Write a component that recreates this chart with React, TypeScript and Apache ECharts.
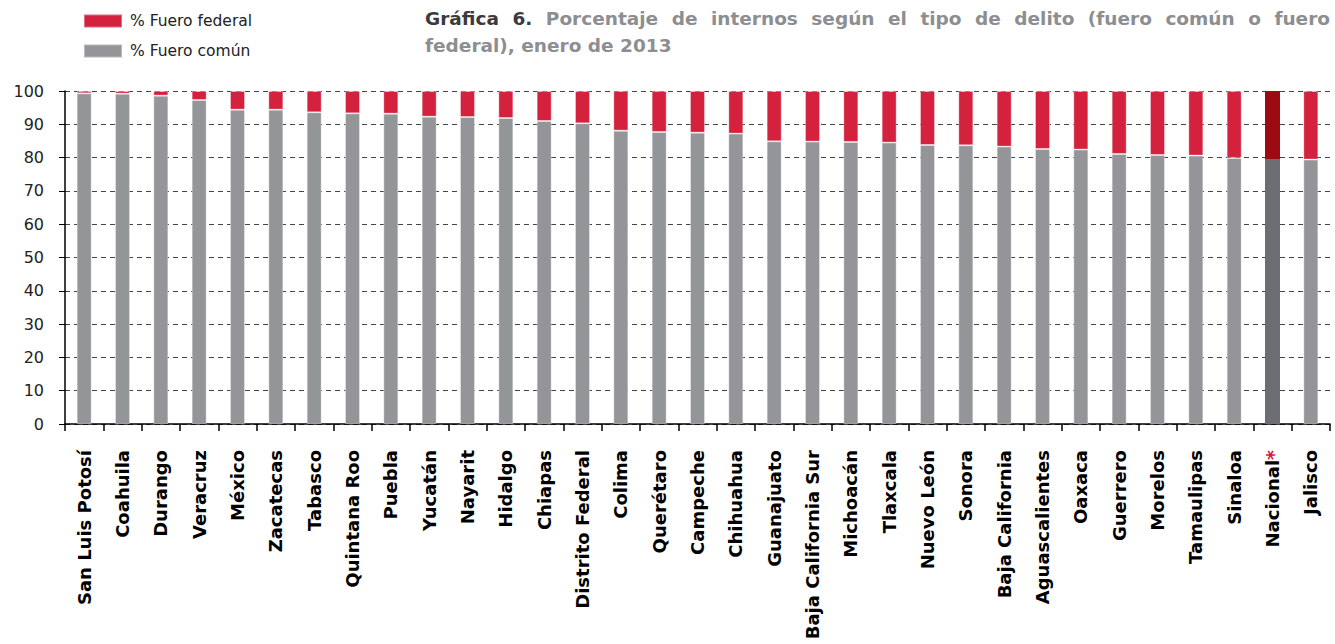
import React, { useEffect, useRef } from "react";
import * as echarts from "echarts";

const states = [
  "San Luis Potosí", "Coahuila", "Durango", "Veracruz", "México", "Zacatecas", "Tabasco",
  "Quintana Roo", "Puebla", "Yucatán", "Nayarit", "Hidalgo", "Chiapas", "Distrito Federal",
  "Colima", "Querétaro", "Campeche", "Chihuahua", "Guanajuato", "Baja California Sur",
  "Michoacán", "Tlaxcala", "Nuevo León", "Sonora", "Baja California", "Aguascalientes",
  "Oaxaca", "Guerrero", "Morelos", "Tamaulipas", "Sinaloa", "Nacional", "Jalisco",
];

const fueroComun = [
  99.3, 99.2, 98.6, 97.3, 94.4, 94.4, 93.6, 93.3, 93.2, 92.3, 92.2, 91.9, 91.0, 90.3,
  88.1, 87.7, 87.5, 87.2, 84.9, 84.8, 84.7, 84.5, 83.8, 83.7, 83.3, 82.6,
  82.4, 81.1, 80.8, 80.6, 79.9, 79.6, 79.4,
];

const fueroFederal = [
  0.7, 0.8, 1.4, 2.7, 5.6, 5.6, 6.4, 6.7, 6.8, 7.7, 7.8, 8.1, 9.0, 9.7,
  11.9, 12.3, 12.5, 12.8, 15.1, 15.2, 15.3, 15.5, 16.2, 16.3, 16.7, 17.4,
  17.6, 18.9, 19.2, 19.4, 20.1, 20.4, 20.6,
];

const yTicks = [0, 10, 20, 30, 40, 50, 60, 70, 80, 90, 100];

const titleLead = "Gráfica 6.";
const titleLine1 = "Porcentaje de internos según el tipo de delito (fuero común o fuero";
const titleLine2 = "federal), enero de 2013";

const RED = "#d4213d";
const GREY = "#939598";
const DARK_RED = "#9c0a12";
const DARK_GREY = "#6d6e71";
const FONT = "DejaVu Sans";
const TITLE_SIZE = 18.5;

export default function App() {
  const ref = useRef<HTMLDivElement>(null);

  useEffect(() => {
    document.body.style.margin = "0";
    const chart = echarts.init(ref.current!, null, { renderer: "svg" });
    const highlight = "Nacional";

    // justified first title line
    const ctx = document.createElement("canvas").getContext("2d")!;
    ctx.font = `bold ${TITLE_SIZE}px "${FONT}"`;
    const words = [
      ...titleLead.split(" ").map((w) => ({ w, dark: true })),
      ...titleLine1.split(" ").map((w) => ({ w, dark: false })),
    ];
    const widths = words.map((o) => ctx.measureText(o.w).width);
    const x0 = 425;
    const x1 = 1330;
    const total = widths.reduce((a, b) => a + b, 0);
    const gap = (x1 - x0 - total) / (words.length - 1);
    let cx = x0;
    const titleEls: any[] = [];
    words.forEach((o, i) => {
      titleEls.push({
        type: "text",
        x: cx,
        y: 9,
        style: {
          text: o.w,
          font: `bold ${TITLE_SIZE}px "${FONT}"`,
          fill: o.dark ? "#3a3a3c" : "#8d8e91",
          textVerticalAlign: "top",
        },
      });
      cx += widths[i] + gap;
    });
    titleEls.push({
      type: "text",
      x: x0,
      y: 36,
      style: {
        text: titleLine2,
        font: `bold ${TITLE_SIZE}px "${FONT}"`,
        fill: "#8d8e91",
        textVerticalAlign: "top",
      },
    });

    chart.setOption({
      animation: false,
      textStyle: { fontFamily: FONT },
      graphic: titleEls,
      legend: {
        left: 78,
        top: 8,
        orient: "vertical",
        itemWidth: 38,
        itemHeight: 13,
        itemGap: 14,
        icon: "rect",
        data: ["% Fuero federal", "% Fuero común"],
        textStyle: { fontFamily: FONT, fontSize: 15.5, color: "#222", padding: [0, 0, 0, 3] },
      },
      grid: { left: 65, right: 5, top: 91, bottom: 220, containLabel: false },
      xAxis: {
        type: "category",
        data: states,
        axisLine: { lineStyle: { color: "#000", width: 1.5 } },
        axisTick: { show: true, length: 7, lineStyle: { color: "#000", width: 1.5 } },
        axisLabel: {
          rotate: 90,
          margin: 26,
          interval: 0,
          fontFamily: FONT,
          fontWeight: "bold",
          fontSize: 18,
          color: "#000",
          formatter: (v: string) => (v === highlight ? `${v}{r|*}` : v),
          rich: {
            r: { color: RED, fontWeight: "bold", fontSize: 19, fontFamily: FONT },
          },
        },
      },
      yAxis: {
        type: "value",
        min: 0,
        max: 100,
        interval: 10,
        axisLine: { show: true, lineStyle: { color: "#000", width: 1.5 } },
        axisTick: { show: true, length: 6, lineStyle: { color: "#000" } },
        axisLabel: {
          margin: 21,
          fontFamily: FONT,
          fontSize: 16,
          color: "#222",
          formatter: (v: number) => (yTicks.includes(v) ? String(v) : ""),
        },
        splitLine: { show: true, lineStyle: { color: "#444", type: [5, 4], width: 1.2 } },
      },
      series: [
        {
          name: "% Fuero común",
          type: "bar",
          stack: "total",
          barWidth: 15,
          itemStyle: { color: GREY, borderColor: "rgba(255,255,255,0.35)", borderWidth: 1 },
          data: fueroComun.map((v, i) =>
            states[i] === highlight
              ? { value: v, itemStyle: { color: DARK_GREY, borderWidth: 0 } }
              : v
          ),
        },
        {
          name: "% Fuero federal",
          type: "bar",
          stack: "total",
          barWidth: 15,
          itemStyle: { color: RED, borderColor: "rgba(255,255,255,0.35)", borderWidth: 1 },
          data: fueroFederal.map((v, i) =>
            states[i] === highlight
              ? { value: v, itemStyle: { color: DARK_RED, borderWidth: 0 } }
              : v
          ),
        },
      ],
    });

    return () => chart.dispose();
  }, []);

  return <div ref={ref} style={{ width: 1335, height: 644 }} />;
}
